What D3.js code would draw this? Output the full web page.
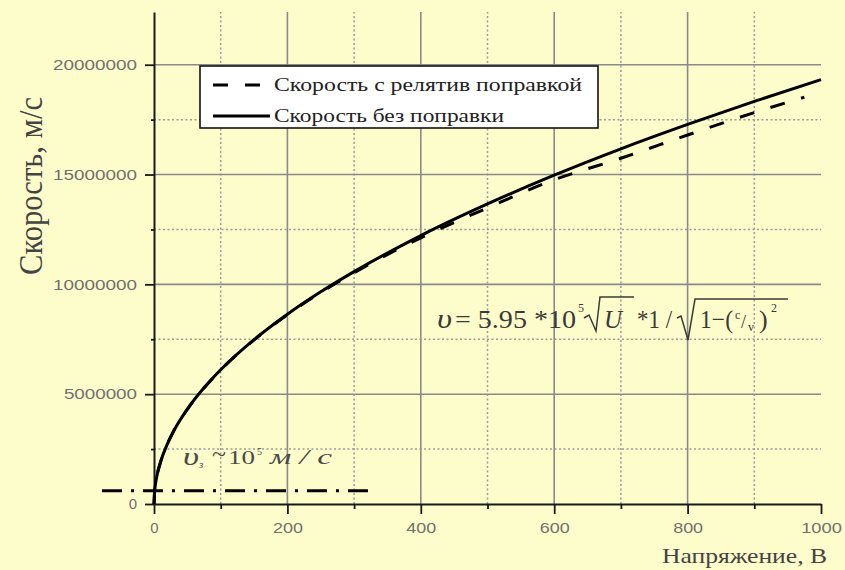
<!DOCTYPE html>
<html>
<head>
<meta charset="utf-8">
<script src="https://cdn.jsdelivr.net/npm/d3@7"></script>
<style>
  body { margin: 0; background: #fdfccb; }
  svg { display: block; }
</style>
</head>
<body>
<svg width="845" height="570"></svg>
<script>
// Data
const voltage = [0, 1, 2, 5, 10, 20, 30, 50, 75, 100, 150, 200, 250, 300, 400, 500, 600, 700, 800, 900, 1000];
const speedNoCorr = [0, 610000, 860000, 1370000, 1930000, 2730000, 3350000, 4320000, 5290000, 6110000,
  7480000, 8640000, 9660000, 10580000, 12220000, 13660000, 14970000, 16170000, 17280000, 18330000, 19320000];

const voltageRel = [0, 1, 2, 5, 10, 20, 30, 50, 75, 100, 150, 200, 250, 300, 400, 500, 600, 700, 800, 900, 975];
const speedRel = [0, 610000, 860000, 1370000, 1930000, 2730000, 3350000, 4310000, 5280000, 6100000,
  7470000, 8620000, 9630000, 10530000, 12120000, 13480000, 14760000, 15740000, 16800000, 17820000, 18520000];

// horizontal dash-dot level (v_з)
const levelVoltage = [-78, 324];
const levelSpeed = [600000, 600000];

const xMajor = [0, 200, 400, 600, 800, 1000];
const xMinor = [100, 300, 500, 700, 900];
const yMajor = [0, 5000000, 10000000, 15000000, 20000000];
const yMinor = [2500000, 7500000, 12500000, 17500000];

const legendLabels = ['Скорость с релятив поправкой', 'Скорость без поправки'];

const svg = d3.select('svg'),
  width = 845,
  height = 570;

svg.append('rect').attr('width', width).attr('height', height).attr('fill', '#fdfccb');

const x = d3.scaleLinear().domain([0, 1000]).range([154, 821]);
const y = d3.scaleLinear().domain([0, 22400000]).range([504, 12]);

// grid
const grid = svg.append('g');
grid.selectAll('.vmin').data(xMinor).join('line')
  .attr('x1', d => x(d)).attr('x2', d => x(d))
  .attr('y1', y.range()[0]).attr('y2', y.range()[1])
  .attr('stroke', '#9a9a9a').attr('stroke-width', 1.5).attr('stroke-dasharray', '2,2.5');
grid.selectAll('.hmin').data(yMinor).join('line')
  .attr('y1', d => y(d)).attr('y2', d => y(d))
  .attr('x1', x.range()[0]).attr('x2', x.range()[1])
  .attr('stroke', '#9a9a9a').attr('stroke-width', 1.5).attr('stroke-dasharray', '2,2.5');
grid.selectAll('.vmaj').data(xMajor.slice(1, -1)).join('line')
  .attr('x1', d => x(d)).attr('x2', d => x(d))
  .attr('y1', y.range()[0]).attr('y2', y.range()[1])
  .attr('stroke', '#8a8a8a').attr('stroke-width', 1.6);
grid.selectAll('.hmaj').data(yMajor.slice(1)).join('line')
  .attr('y1', d => y(d)).attr('y2', d => y(d))
  .attr('x1', x.range()[0]).attr('x2', x.range()[1])
  .attr('stroke', '#8a8a8a').attr('stroke-width', 1.6);

// axes
function styleAxis(g) {
  g.select('.domain').attr('stroke', '#1a1a1a').attr('stroke-width', 2);
  g.selectAll('.tick line').attr('stroke', '#1a1a1a').attr('stroke-width', 1.8);
  g.selectAll('.tick text')
    .attr('fill', '#707070')
    .style('font-family', '"Liberation Sans", Arial, sans-serif')
    .style('font-size', '15px')
    .attr('textLength', function () { return this.textContent.length * 10.8 - 2.5; })
    .attr('lengthAdjust', 'spacingAndGlyphs');
}

svg.append('g').attr('transform', `translate(0,${y(0)})`)
  .call(d3.axisBottom(x).tickValues(xMinor).tickSize(5).tickFormat(''))
  .call(g => g.select('.domain').remove())
  .call(styleAxis);
svg.append('g').attr('transform', `translate(${x(0)},0)`)
  .call(d3.axisLeft(y).tickValues(yMinor).tickSize(3).tickFormat(''))
  .call(g => g.select('.domain').remove())
  .call(styleAxis);

svg.append('g').attr('transform', `translate(0,${y(0)})`)
  .call(d3.axisBottom(x).tickValues(xMajor).tickSize(10).tickSizeOuter(0).tickPadding(8).tickFormat(d3.format('d')))
  .call(styleAxis);
svg.append('g').attr('transform', `translate(${x(0)},0)`)
  .call(d3.axisLeft(y).tickValues(yMajor).tickSize(9).tickSizeOuter(0).tickPadding(8).tickFormat(d3.format('d')))
  .call(styleAxis);

// axis titles
svg.append('text')
  .attr('transform', `translate(42,186) rotate(-90)`)
  .attr('text-anchor', 'middle')
  .attr('fill', '#444')
  .style('font-family', '"Liberation Serif", "Times New Roman", serif')
  .style('font-size', '34px')
  .attr('textLength', 178).attr('lengthAdjust', 'spacingAndGlyphs')
  .text('Скорость, м/с');

svg.append('text')
  .attr('x', 662).attr('y', 563)
  .attr('fill', '#444')
  .style('font-family', '"Liberation Serif", "Times New Roman", serif')
  .style('font-size', '22px')
  .attr('textLength', 165).attr('lengthAdjust', 'spacingAndGlyphs')
  .text('Напряжение, В');

// curves
const line = d3.line().x(d => x(d[0])).y(d => y(d[1])).curve(d3.curveMonotoneX);

svg.append('path')
  .datum(d3.zip(levelVoltage, levelSpeed))
  .attr('d', d3.line().x(d => x(d[0])).y(d => y(d[1])))
  .attr('fill', 'none').attr('stroke', '#000').attr('stroke-width', 3)
  .attr('stroke-dasharray', '20,9,3,9');

svg.append('path')
  .datum(d3.zip(voltageRel, speedRel))
  .attr('d', line)
  .attr('fill', 'none').attr('stroke', '#000').attr('stroke-width', 3)
  .attr('stroke-dasharray', '15,17');

svg.append('path')
  .datum(d3.zip(voltage, speedNoCorr))
  .attr('d', line)
  .attr('fill', 'none').attr('stroke', '#000').attr('stroke-width', 3);

// legend
const legend = svg.append('g');
legend.append('rect')
  .attr('x', 200).attr('y', 66).attr('width', 398).attr('height', 62)
  .attr('fill', '#fff').attr('stroke', '#111').attr('stroke-width', 1.6);
legend.append('line').attr('x1', 213).attr('x2', 262).attr('y1', 85).attr('y2', 85)
  .attr('stroke', '#000').attr('stroke-width', 3).attr('stroke-dasharray', '15,17');
legend.append('line').attr('x1', 213).attr('x2', 270).attr('y1', 116).attr('y2', 116)
  .attr('stroke', '#000').attr('stroke-width', 3);
legend.selectAll('text.lg').data(legendLabels).join('text')
  .attr('x', 274).attr('y', (d, i) => 91 + i * 31)
  .attr('fill', '#222')
  .style('font-family', '"Liberation Serif", "Times New Roman", serif')
  .style('font-size', '19px')
  .attr('textLength', (d, i) => (i === 0 ? 308 : 230)).attr('lengthAdjust', 'spacingAndGlyphs')
  .text(d => d);

// formula annotation
const serif = '"Liberation Serif", "Times New Roman", serif';
const f = svg.append('g').attr('fill', '#3a3a3a').style('font-family', serif);
function piece(px, py, txt, size, italic, len) {
  const t = f.append('text').attr('x', px).attr('y', py).style('font-size', size + 'px').text(txt);
  if (italic) t.style('font-style', 'italic');
  if (len) t.attr('textLength', len).attr('lengthAdjust', 'spacingAndGlyphs');
  return t;
}
piece(437, 328, 'υ', 27, true, 15);
piece(455, 328, '= 5.95 *10', 26, false, 121);
piece(578, 312, '5', 12, false);
piece(604, 328, 'U', 25, true);
piece(637, 328, '*1 /', 26, false, 35);
piece(700, 328, '1−(', 26, false, 33);
piece(735, 319, 'c', 12, false);
piece(741, 328, '/', 18, false);
piece(748, 331, 'v', 12, false);
piece(759, 328, ')', 26, false);
piece(771, 312, '2', 12, false);
f.append('path')
  .attr('d', 'M584,318 L589,315 L596,331 L600,297 L634,297')
  .attr('fill', 'none').attr('stroke', '#3a3a3a').attr('stroke-width', 1.5);
f.append('path')
  .attr('d', 'M677,318 L681,316 L688,340 L695,299 L788,299')
  .attr('fill', 'none').attr('stroke', '#3a3a3a').attr('stroke-width', 1.5);

// v_з label
const vz = svg.append('g').attr('fill', '#4a4a4a').style('font-family', serif);
vz.append('text').attr('x', 183).attr('y', 465).style('font-size', '26px').style('font-style', 'italic')
  .attr('textLength', 16).attr('lengthAdjust', 'spacingAndGlyphs').text('υ');
vz.append('text').attr('x', 199).attr('y', 468).style('font-size', '11px').style('font-style', 'italic').text('з');
vz.append('text').attr('x', 212).attr('y', 462).style('font-size', '24px')
  .attr('textLength', 14).attr('lengthAdjust', 'spacingAndGlyphs').text('~');
vz.append('text').attr('x', 228).attr('y', 464).style('font-size', '19px')
  .attr('textLength', 27).attr('lengthAdjust', 'spacingAndGlyphs').text('10');
vz.append('text').attr('x', 257).attr('y', 455).style('font-size', '10px').text('5');
vz.append('text').attr('x', 270).attr('y', 464).style('font-size', '21px').style('font-style', 'italic')
  .attr('textLength', 62).attr('lengthAdjust', 'spacingAndGlyphs').text('м / с');
</script>
</body>
</html>
